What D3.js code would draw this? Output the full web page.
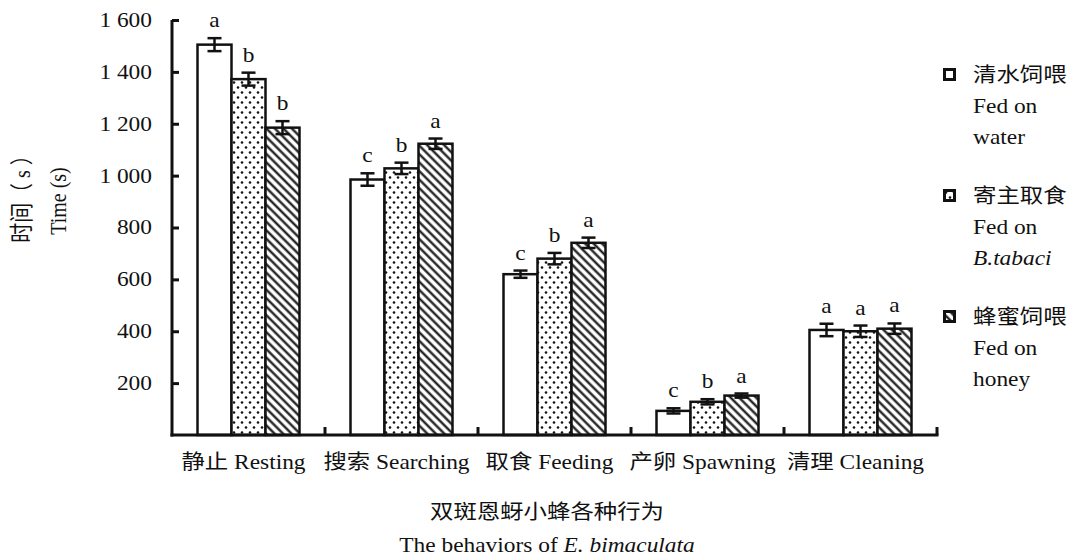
<!DOCTYPE html>
<html>
<head>
<meta charset="utf-8">
<script src="https://cdn.jsdelivr.net/npm/d3@7/dist/d3.min.js"></script>
<style>
  html, body { margin: 0; padding: 0; background: #fff; }
  svg { display: block; }
  text { fill: #111; }
</style>
</head>
<body>
<svg id="chart" width="1071" height="559"></svg>
<script>
// Behaviour categories of E. bimaculata
const categories = ["静止 Resting", "搜索 Searching", "取食 Feeding", "产卵 Spawning", "清理 Cleaning"];
const seriesKeys = ["water", "host", "honey"];

// Mean time (s) per behaviour for each feeding treatment
const waterValues = [1505, 985, 620, 93, 405];
const hostValues  = [1372, 1028, 680, 128, 400];
const honeyValues = [1185, 1123, 741, 152, 410];

// Standard errors
const waterErrors = [25, 24, 14, 10, 24];
const hostErrors  = [25, 22, 22, 10, 22];
const honeyErrors = [25, 20, 20, 8, 20];

// Significance letters
const waterLetters = ["a", "c", "c", "c", "a"];
const hostLetters  = ["b", "b", "b", "b", "a"];
const honeyLetters = ["b", "a", "a", "a", "a"];

const yTicks = [200, 400, 600, 800, 1000, 1200, 1400, 1600];

const legendLines = [
  [{t: "清水饲喂"}, {t: "Fed on"}, {t: "water"}],
  [{t: "寄主取食"}, {t: "Fed on"}, {t: "B.tabaci", italic: true}],
  [{t: "蜂蜜饲喂"}, {t: "Fed on"}, {t: "honey"}]
];

const series = [
  {key: "water", values: waterValues, errors: waterErrors, letters: waterLetters, fill: "#fff"},
  {key: "host",  values: hostValues,  errors: hostErrors,  letters: hostLetters,  fill: "url(#dots)"},
  {key: "honey", values: honeyValues, errors: honeyErrors, letters: honeyLetters, fill: "url(#hatch)"}
];

const SERIF = "Liberation Serif";
const CJK = "Noto Sans CJK SC";
const svg = d3.select("#chart");
const SX = 1.17;        // horizontal widening of the typeface
const FS = 20;

// Split a label into CJK and Latin runs, each with its own face
function addRuns(textSel, str, italic) {
  const runs = str.match(/[\u3000-\u9fff\uff00-\uffef]+|[^\u3000-\u9fff\uff00-\uffef]+/g) || [];
  runs.forEach(r => {
    const isCjk = /[\u3000-\u9fff\uff00-\uffef]/.test(r);
    const ts = textSel.append("tspan")
      .attr("font-family", isCjk ? CJK : SERIF)
      .style("white-space", "pre")
      .text(r);
    if (italic && !isCjk) ts.attr("font-style", "italic");
  });
  return textSel;
}

// Patterns
const defs = svg.append("defs");
const dots = defs.append("pattern").attr("id", "dots")
  .attr("patternUnits", "userSpaceOnUse").attr("width", 8).attr("height", 10);
dots.append("rect").attr("width", 8).attr("height", 10).attr("fill", "#fff");
dots.append("circle").attr("cx", 2).attr("cy", 2.5).attr("r", 1.3).attr("fill", "#111");
dots.append("circle").attr("cx", 6).attr("cy", 7.5).attr("r", 1.3).attr("fill", "#111");

const hatch = defs.append("pattern").attr("id", "hatch")
  .attr("patternUnits", "userSpaceOnUse").attr("width", 6).attr("height", 6)
  .attr("patternTransform", "rotate(-45)");
hatch.append("rect").attr("width", 6).attr("height", 6).attr("fill", "#fff");
hatch.append("line").attr("x1", 1.5).attr("x2", 1.5).attr("y1", 0).attr("y2", 6)
  .attr("stroke", "#111").attr("stroke-width", 2.2);

// Scales
const x = d3.scaleBand().domain(categories).range([172, 937]).paddingInner(0).paddingOuter(0);
const xs = d3.scaleBand().domain(seriesKeys).range([0, x.bandwidth()]).paddingInner(0).paddingOuter(0.75);
const y = d3.scaleLinear().domain([0, 1600]).range([435, 20]);

// Widened text helper
function wideText(sel, px, py, anchor) {
  return sel.append("text")
    .attr("transform", `translate(${px},${py}) scale(${SX},1)`)
    .attr("text-anchor", anchor || "middle")
    .attr("font-size", FS)
    .attr("font-family", SERIF)
    .style("white-space", "pre");
}

// Bars
const groups = svg.append("g").selectAll("g")
  .data(series).join("g");

groups.selectAll("rect")
  .data(s => s.values.map((v, i) => ({cat: categories[i], v, key: s.key, fill: s.fill})))
  .join("rect")
  .attr("x", d => x(d.cat) + xs(d.key))
  .attr("y", d => y(d.v))
  .attr("width", xs.bandwidth())
  .attr("height", d => y(0) - y(d.v))
  .attr("fill", d => d.fill)
  .attr("stroke", "#111")
  .attr("stroke-width", 2.5);

// Error bars and letters
const cap = 7;
series.forEach(s => {
  s.values.forEach((v, i) => {
    const cx = x(categories[i]) + xs(s.key) + xs.bandwidth() / 2;
    const top = y(v + s.errors[i]);
    const bot = y(v - s.errors[i]);
    const g = svg.append("g").attr("stroke", "#111").attr("stroke-width", 2.5);
    g.append("line").attr("x1", cx).attr("x2", cx).attr("y1", top).attr("y2", bot);
    g.append("line").attr("x1", cx - cap).attr("x2", cx + cap).attr("y1", top).attr("y2", top);
    g.append("line").attr("x1", cx - cap).attr("x2", cx + cap).attr("y1", bot).attr("y2", bot);
    wideText(svg, cx, top - 11).text(s.letters[i]);
  });
});

// Y axis
const fmt = d3.formatLocale({decimal: ".", thousands: " ", grouping: [3], currency: ["", ""]}).format(",");
const yAxis = svg.append("g").attr("transform", "translate(172,0)")
  .call(d3.axisLeft(y).tickValues(yTicks).tickSize(-7).tickSizeOuter(0).tickPadding(20).tickFormat(fmt));
yAxis.attr("font-family", SERIF);
yAxis.select(".domain").attr("stroke", "#111").attr("stroke-width", 3)
  .attr("d", `M0,${y(1600)}V${y(0) + 1.5}`);
yAxis.selectAll(".tick line").attr("stroke", "#111").attr("stroke-width", 3);
yAxis.selectAll(".tick text")
  .attr("font-size", FS)
  .attr("font-family", SERIF)
  .attr("fill", "#111")
  .attr("transform", `translate(-20,0) scale(${SX},1)`)
  .attr("x", 0);

// X axis: baseline with separators between behaviour groups
const xAxis = svg.append("g").attr("stroke", "#111").attr("stroke-width", 3);
xAxis.append("line").attr("x1", 170.5).attr("x2", x.range()[1] + 1.5).attr("y1", y(0)).attr("y2", y(0));
categories.forEach(c => {
  const bx = x(c) + x.bandwidth();
  xAxis.append("line").attr("x1", bx).attr("x2", bx).attr("y1", y(0)).attr("y2", y(0) - 8);
});
categories.forEach(c => {
  addRuns(wideText(svg, x(c) + x.bandwidth() / 2 - 5, 469), c);
});

// Axis titles
addRuns(svg.append("text")
  .attr("transform", `translate(30,194) rotate(-90) scale(1,${SX})`)
  .attr("text-anchor", "middle").attr("font-size", FS)
  .style("white-space", "pre"), "时间（ s ）");
svg.append("text")
  .attr("transform", `translate(66,201) rotate(-90) scale(1,${SX})`)
  .attr("text-anchor", "middle").attr("font-size", FS)
  .attr("font-family", SERIF)
  .text("Time (s)");

addRuns(wideText(svg, 547, 519), "双斑恩蚜小蜂各种行为");
const t2 = wideText(svg, 547, 552);
t2.append("tspan").text("The behaviors of ");
t2.append("tspan").attr("font-style", "italic").text("E. bimaculata");

// Legend
const legendTop = [82, 203, 324];
series.forEach((s, k) => {
  const ly = legendTop[k];
  svg.append("rect")
    .attr("x", 944.5).attr("y", ly - 12.5).attr("width", 10).attr("height", 10)
    .attr("fill", s.fill).attr("stroke", "#111").attr("stroke-width", 3);
  legendLines[k].forEach((ln, j) => {
    addRuns(wideText(svg, 973, ly + j * 31, "start"), ln.t, ln.italic);
  });
});
</script>
</body>
</html>
